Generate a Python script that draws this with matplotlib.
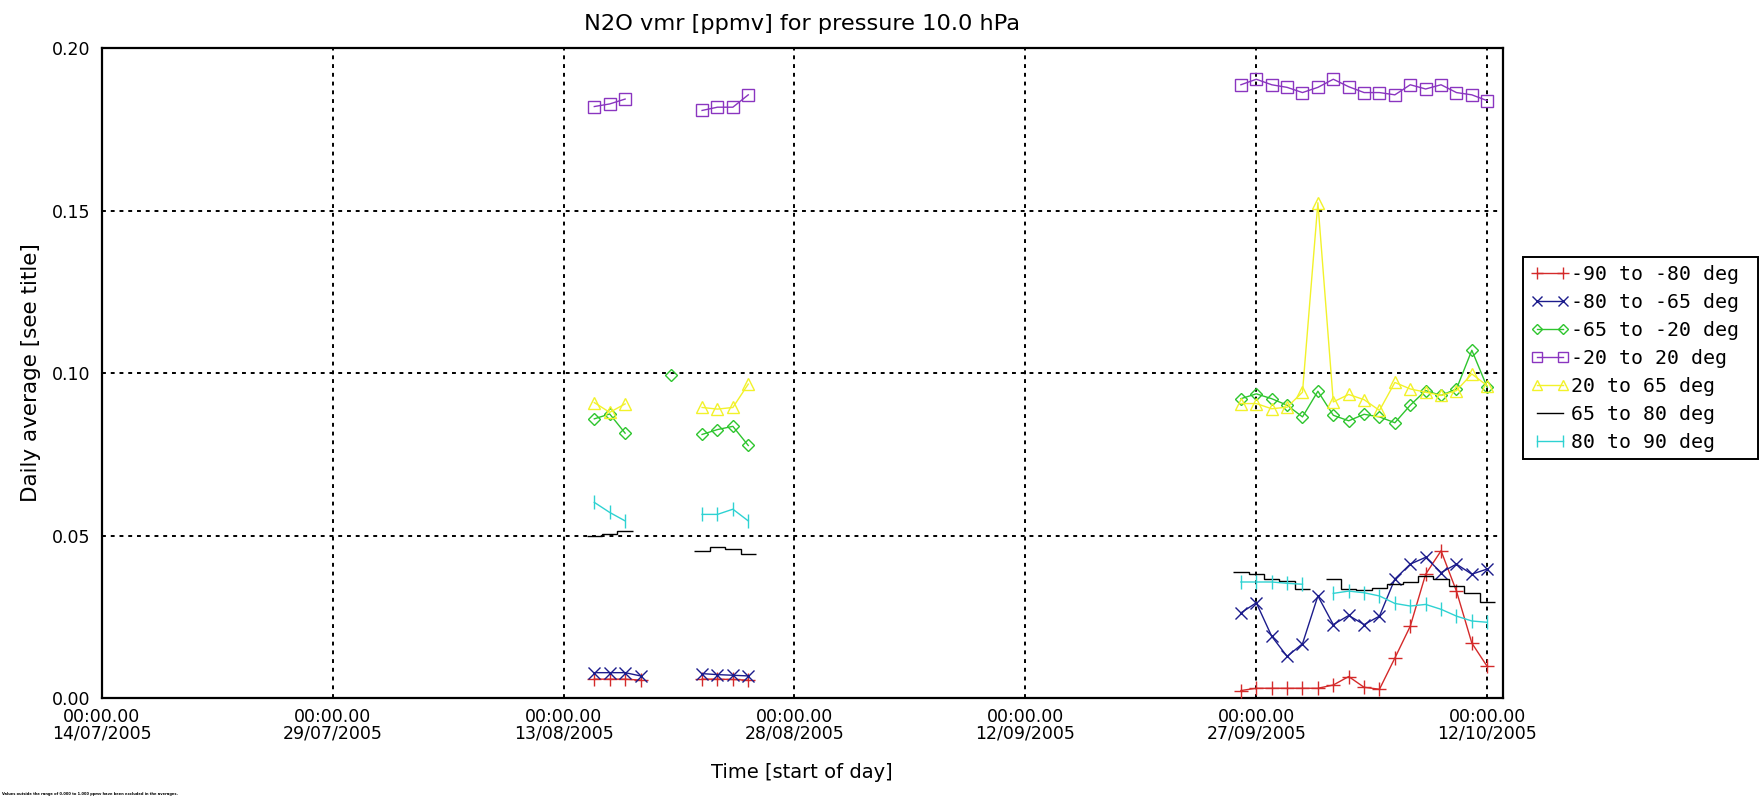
import numpy as np
import pandas as pd
import matplotlib
matplotlib.use("Agg")
import matplotlib.pyplot as plt
import matplotlib.dates as mdates
from matplotlib.lines import Line2D

nan = np.nan

# ---------------- data ----------------
dates_g1 = pd.to_datetime(["2005-08-15", "2005-08-16", "2005-08-17", "2005-08-18"])
dates_g2 = pd.to_datetime(["2005-08-22", "2005-08-23", "2005-08-24", "2005-08-25"])
dates_g3 = pd.date_range("2005-09-26", "2005-10-12", freq="D")
date_single = pd.to_datetime(["2005-08-20"])

labels = ["-90 to -80 deg", "-80 to -65 deg", "-65 to -20 deg", "-20 to 20 deg",
          "20 to 65 deg", "65 to 80 deg", "80 to 90 deg"]

red_g1 = [0.0058, 0.0058, 0.0058, 0.0055]
red_g2 = [0.0058, 0.0058, 0.0057, 0.0055]
red_g3 = [0.0023, 0.0030, 0.0030, 0.0030, 0.0030, 0.0030, 0.0040, 0.0066, 0.0033,
          0.0027, 0.0123, 0.0221, 0.0381, 0.0453, 0.0329, 0.0169, 0.0097]

blue_g1 = [0.0078, 0.0078, 0.0078, 0.0068]
blue_g2 = [0.0075, 0.0072, 0.0070, 0.0068]
blue_g3 = [0.0262, 0.0293, 0.0190, 0.0128, 0.0167, 0.0314, 0.0226, 0.0254, 0.0226,
           0.0252, 0.0366, 0.0412, 0.0433, 0.0386, 0.0412, 0.0381, 0.0397]

green_g1 = [0.0859, 0.0874, 0.0815, nan]
green_single = [0.0995]
green_g2 = [0.0811, 0.0826, 0.0836, 0.0777]
green_g3 = [0.0921, 0.0936, 0.0921, 0.0901, 0.0865, 0.0944, 0.0870, 0.0853, 0.0873,
            0.0865, 0.0847, 0.0901, 0.0946, 0.0931, 0.0951, 0.1070, 0.0956]

purple_g1 = [0.1820, 0.1828, 0.1843, nan]
purple_g2 = [0.1808, 0.1818, 0.1818, 0.1856]
purple_g3 = [0.1887, 0.1904, 0.1887, 0.1879, 0.1863, 0.1879, 0.1904, 0.1881, 0.1863,
             0.1863, 0.1856, 0.1887, 0.1874, 0.1887, 0.1863, 0.1856, 0.1838]

yellow_g1 = [0.0909, 0.0879, 0.0905, nan]
yellow_g2 = [0.0894, 0.0889, 0.0894, 0.0966]
yellow_g3 = [0.0906, 0.0906, 0.0890, 0.0895, 0.0941, 0.1524, 0.0911, 0.0934, 0.0918,
             0.0885, 0.0971, 0.0951, 0.0941, 0.0931, 0.0946, 0.0997, 0.0961]

black_g1 = [0.0500, 0.0504, 0.0515, nan]
black_g2 = [0.0451, 0.0464, 0.0457, 0.0444]
black_g3 = [0.0388, 0.0381, 0.0366, 0.0360, 0.0335, nan, 0.0366, 0.0335, 0.0332,
            0.0340, 0.0350, 0.0357, 0.0376, 0.0366, 0.0345, 0.0324, 0.0295]

cyan_g1 = [0.0602, 0.0571, 0.0545, nan]
cyan_g2 = [0.0565, 0.0565, 0.0581, 0.0545]
cyan_g3 = [0.0357, 0.0357, 0.0357, 0.0353, 0.0350, nan, 0.0322, 0.0329, 0.0324,
           0.0314, 0.0291, 0.0283, 0.0288, 0.0273, 0.0252, 0.0237, 0.0233]

tick_dates = pd.to_datetime(["2005-07-14", "2005-07-29", "2005-08-13", "2005-08-28",
                             "2005-09-12", "2005-09-27", "2005-10-12"])
tick_labels = ["00:00.00\n14/07/2005", "00:00.00\n29/07/2005", "00:00.00\n13/08/2005",
               "00:00.00\n28/08/2005", "00:00.00\n12/09/2005", "00:00.00\n27/09/2005",
               "00:00.00\n12/10/2005"]
y_ticks = [0.00, 0.05, 0.10, 0.15, 0.20]

# ---------------- styles ----------------
colors = ["#d42a2a", "#1c1c8c", "#2ec52e", "#8a35c0", "#f2f22a", "#000000", "#2ed2d2"]
markers = ["+", "x", "D", "s", "^", None, "|"]
msizes = [10, 8, 6, 9, 9, 0, 10]

fig = plt.figure(figsize=(17.62, 7.98), dpi=100)
ax = fig.add_axes([0.0577, 0.1253, 0.7951, 0.8145])

def series(i, groups):
    for d, v in groups:
        x = mdates.date2num(d)
        ax.plot(x, v, color=colors[i], lw=1.0, marker=markers[i], ms=msizes[i],
                mfc="none", mec=colors[i], mew=1.0, zorder=3)

series(0, [(dates_g1, red_g1), (dates_g2, red_g2), (dates_g3, red_g3)])
series(1, [(dates_g1, blue_g1), (dates_g2, blue_g2), (dates_g3, blue_g3)])
series(2, [(dates_g1, green_g1), (date_single, green_single), (dates_g2, green_g2),
           (dates_g3, green_g3)])
series(3, [(dates_g1, purple_g1), (dates_g2, purple_g2), (dates_g3, purple_g3)])
series(4, [(dates_g1, yellow_g1), (dates_g2, yellow_g2), (dates_g3, yellow_g3)])

# black series drawn in histogram (step) mode
for d, v in [(dates_g1, black_g1), (dates_g2, black_g2), (dates_g3, black_g3)]:
    x = mdates.date2num(d)
    v = np.asarray(v, dtype=float)
    idx = np.where(~np.isnan(v))[0]
    if len(idx) == 0:
        continue
    for s in np.split(idx, np.where(np.diff(idx) > 1)[0] + 1):
        edges = np.concatenate([x[s] - 0.5, [x[s[-1]] + 0.5]])
        ax.stairs(v[s], edges, color=colors[5], lw=1.0, baseline=None, zorder=3)

series(6, [(dates_g1, cyan_g1), (dates_g2, cyan_g2), (dates_g3, cyan_g3)])

# ---------------- axes ----------------
ax.set_xlim(mdates.date2num(pd.Timestamp("2005-07-14")),
            mdates.date2num(pd.Timestamp("2005-10-13")))
ax.set_ylim(0, 0.2)
ax.set_xticks(mdates.date2num(tick_dates))
ax.set_xticklabels(tick_labels, fontsize=12.5, linespacing=0.9)
ax.set_yticks(y_ticks)
ax.set_yticklabels(["%.2f" % t for t in y_ticks], fontsize=12.5)
ax.tick_params(axis="both", length=0)
ax.tick_params(axis="x", pad=7)
ax.tick_params(axis="y", pad=8)
ax.grid(True, color="black", linestyle=(0, (2, 2.5)), lw=1.4, zorder=1)
for s in ax.spines.values():
    s.set_linewidth(1.6)
    s.set_color("black")

ax.set_title("N2O vmr [ppmv] for pressure 10.0 hPa", fontsize=16.2, pad=13)
ax.set_xlabel("Time [start of day]", fontsize=14, labelpad=15)
ax.set_ylabel("Daily average [see title]", fontsize=15.5, labelpad=8)

handles = []
for i in range(7):
    if markers[i] is None:
        handles.append(Line2D([], [], color=colors[i], lw=1.0))
    else:
        handles.append(Line2D([], [], color=colors[i], lw=1.0, marker=markers[i],
                              ms=msizes[i] * 0.85, mfc="none", mec=colors[i], mew=1.0))
leg = fig.legend(handles, labels, loc="upper left",
                 bbox_to_anchor=(0.8644, 0.35, 0.1333, 0.328), mode="expand",
                 prop={"family": "DejaVu Sans Mono", "size": 14.3},
                 numpoints=2, handlelength=1.9, handletextpad=0.1,
                 labelspacing=0.45, borderpad=0.4, borderaxespad=0.0,
                 fancybox=False, framealpha=1, edgecolor="black")
leg.get_frame().set_linewidth(1.4)

fig.text(0.001, 0.003,
         "Values outside the range of 0.000 to 1.000 ppmv have been excluded in the averages.",
         fontsize=2.6, fontweight="bold", ha="left", va="bottom")

fig.savefig("out.png", dpi=100)
